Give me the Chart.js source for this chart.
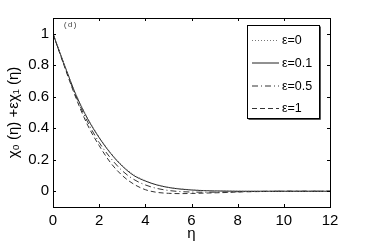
<!DOCTYPE html>
<html>
<head>
<meta charset="utf-8">
<script src="https://cdn.jsdelivr.net/npm/chart.js@4"></script>
<style>
  html, body { margin: 0; padding: 0; background: #fff; }
  #wrap { width: 365px; height: 244px; }
</style>
</head>
<body>
<div id="wrap"><canvas id="chart1" width="365" height="244"></canvas></div>
<script>
// valores (d)
var eta = [0, 0.5, 1, 1.5, 2, 2.5, 3, 3.5, 4, 4.5, 5, 5.5, 6, 6.5, 7, 7.5, 8, 8.5, 9, 9.5, 10, 10.5, 11, 11.5, 12];
var eps0   = [1, 0.80, 0.615, 0.465, 0.345, 0.245, 0.165, 0.105, 0.068, 0.042, 0.026, 0.016, 0.009, 0.005, 0.003, 0.002, 0.001, 0, 0, 0, 0, 0, 0, 0, 0];
var eps01  = [1, 0.80, 0.61, 0.46, 0.34, 0.24, 0.16, 0.10, 0.065, 0.04, 0.024, 0.014, 0.008, 0.004, 0.002, 0.001, 0, 0, 0, 0, 0, 0, 0, 0, 0];
var eps05  = [1, 0.795, 0.60, 0.44, 0.31, 0.21, 0.13, 0.075, 0.04, 0.018, 0.005, -0.002, -0.005, -0.006, -0.006, -0.005, -0.003, -0.002, -0.001, 0, 0, 0, 0, 0, 0];
var eps1   = [1, 0.79, 0.59, 0.42, 0.29, 0.18, 0.10, 0.045, 0.01, -0.007, -0.013, -0.015, -0.014, -0.012, -0.01, -0.008, -0.005, -0.003, -0.002, -0.001, 0, 0, 0, 0, 0];
var seriesLabels = ['ε=0', 'ε=0.1', 'ε=0.5', 'ε=1'];
var xTicks = [0, 2, 4, 6, 8, 10, 12];
var yTicks = [0, 0.2, 0.4, 0.6, 0.8, 1];

function pts(vals) {
    return eta.map(function (e, i) { return { x: e, y: vals[i] }; });
}

var FONT = 'Liberation Sans, Arial, Helvetica, sans-serif';

// moldura, marcas internas, legenda e rótulo (d)
var framePlugin = {
    id: 'frame',
    afterDraw: function (chart) {
        var ctx = chart.ctx;
        var a = chart.chartArea;
        var xs = chart.scales.x, ys = chart.scales.y;
        ctx.save();
        ctx.strokeStyle = '#000';
        ctx.lineWidth = 1;
        ctx.strokeRect(Math.round(a.left) + 0.5, Math.round(a.top) + 0.5,
            Math.round(a.right - a.left), Math.round(a.bottom - a.top));
        ctx.beginPath();
        xTicks.forEach(function (t) {
            var px = Math.round(xs.getPixelForValue(t)) + 0.5;
            ctx.moveTo(px, a.bottom); ctx.lineTo(px, a.bottom - 3);
            ctx.moveTo(px, a.top); ctx.lineTo(px, a.top + 3);
        });
        yTicks.forEach(function (t) {
            var py = Math.round(ys.getPixelForValue(t)) + 0.5;
            ctx.moveTo(a.left, py); ctx.lineTo(a.left + 3, py);
            ctx.moveTo(a.right, py); ctx.lineTo(a.right - 3, py);
        });
        ctx.stroke();

        // rótulo (d)
        ctx.fillStyle = '#444';
        ctx.font = '8px "Liberation Mono", monospace';
        ctx.textBaseline = 'middle';
        ctx.fillText('(d)', a.left + 10, a.top + 7);

        // legenda
        var bx = 247.5, by = 25.5, bw = 72, bh = 93;
        ctx.fillStyle = '#fff';
        ctx.fillRect(bx, by, bw, bh);
        ctx.strokeStyle = '#000';
        ctx.strokeRect(bx, by, bw, bh);
        ctx.beginPath();
        ctx.moveTo(bx + bw + 1, by + 1); ctx.lineTo(bx + bw + 1, by + bh + 1); ctx.lineTo(bx + 1, by + bh + 1);
        ctx.strokeStyle = '#555';
        ctx.stroke();
        var rows = [40, 62.5, 85.5, 108];
        ctx.font = '12.5px ' + FONT;
        ctx.textBaseline = 'middle';
        chart.data.datasets.forEach(function (ds, i) {
            ctx.save();
            ctx.strokeStyle = ds.borderColor;
            ctx.lineWidth = ds.borderWidth;
            ctx.setLineDash(ds.borderDash || []);
            ctx.beginPath();
            ctx.moveTo(252, rows[i] + 0.5); ctx.lineTo(279, rows[i] + 0.5);
            ctx.stroke();
            ctx.restore();
            ctx.fillStyle = '#000';
            ctx.fillText(ds.label, 282, rows[i] + 1);
        });
        ctx.restore();
    }
};

var ctx = document.getElementById('chart1').getContext('2d');
var chart = new Chart(ctx, {
    type: 'line',
    data: {
        datasets: [
            { label: seriesLabels[0], data: pts(eps0),  borderColor: '#777', borderWidth: 1, borderDash: [1, 2] },
            { label: seriesLabels[1], data: pts(eps01), borderColor: '#222', borderWidth: 1, borderDash: [] },
            { label: seriesLabels[2], data: pts(eps05), borderColor: '#333', borderWidth: 1, borderDash: [6, 3, 1, 3] },
            { label: seriesLabels[3], data: pts(eps1),  borderColor: '#333', borderWidth: 1, borderDash: [5, 3] }
        ]
    },
    options: {
        responsive: false,
        animation: false,
        layout: { padding: { top: 18, right: 35, bottom: 0, left: 0 } },
        elements: {
            point: { radius: 0 },
            line: { cubicInterpolationMode: 'monotone', fill: false }
        },
        plugins: { legend: { display: false }, tooltip: { enabled: false } },
        scales: {
            x: {
                type: 'linear',
                min: 0, max: 12,
                afterBuildTicks: function (s) { s.ticks = xTicks.map(function (v) { return { value: v }; }); },
                afterFit: function (s) { s.height = 37; },
                grid: { display: false, drawTicks: false },
                border: { display: false },
                ticks: { color: '#000', font: { family: FONT, size: 15 }, padding: 5, maxRotation: 0 },
                title: { display: true, text: 'η', color: '#000', font: { family: FONT, size: 15 }, padding: { top: 0, bottom: 1 } }
            },
            y: {
                min: -0.1, max: 1.1,
                afterBuildTicks: function (s) { s.ticks = yTicks.map(function (v) { return { value: v }; }); },
                afterFit: function (s) { s.width = 53; },
                grid: { display: false, drawTicks: false },
                border: { display: false },
                ticks: {
                    color: '#000', font: { family: FONT, size: 15 }, padding: 4,
                    callback: function (v) { return String(Number(v.toFixed(1))); }
                },
                title: { display: true, text: 'χ₀ (η) +εχ₁ (η)', color: '#000', font: { family: FONT, size: 15 }, padding: { top: 5, bottom: 0 } }
            }
        }
    },
    plugins: [framePlugin]
});
</script>
</body>
</html>
